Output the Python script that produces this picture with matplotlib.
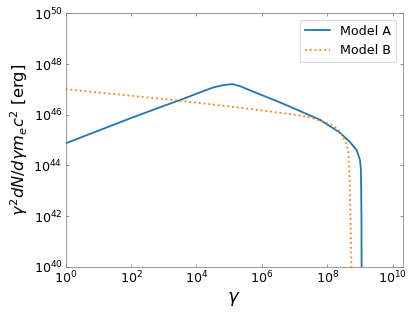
import numpy as np
import matplotlib
matplotlib.use("Agg")
import matplotlib.pyplot as plt

# values (log10 of gamma and of gamma^2 dN/dgamma m_e c^2)
log_gamma_a = [0.0, 1.0, 2.0, 3.0, 3.5, 4.0, 4.52, 4.82, 5.1, 5.33, 5.74,
               6.55, 6.86, 7.16, 7.78, 8.39, 8.69, 8.90, 9.0, 9.03, 9.045, 9.05]
log_energy_a = [44.87, 45.37, 45.87, 46.35, 46.58, 46.83, 47.08, 47.17, 47.21,
                47.13, 46.91, 46.49, 46.32, 46.15, 45.80, 45.29, 44.93, 44.6,
                44.21, 43.8, 42.0, 39.5]

log_gamma_b = [0.0, 1.0, 2.0, 3.0, 3.5, 4.0, 5.0, 6.0, 6.86, 7.47, 7.78,
               8.18, 8.39, 8.54, 8.64, 8.68, 8.71, 8.745]
log_energy_b = [47.01, 46.88, 46.75, 46.62, 46.55, 46.48, 46.33, 46.17, 46.03,
                45.90, 45.76, 45.59, 45.33, 45.0, 44.6, 43.5, 42.0, 39.5]

labels = ["Model A", "Model B"]

gamma_a = 10.0 ** np.array(log_gamma_a)
energy_a = 10.0 ** np.array(log_energy_a)
gamma_b = 10.0 ** np.array(log_gamma_b)
energy_b = 10.0 ** np.array(log_energy_b)

fig, ax = plt.subplots(figsize=(415 / 65, 4.8), dpi=65)
fig.subplots_adjust(left=0.158, right=0.970, bottom=0.145, top=0.957)

ax.plot(gamma_a, energy_a, color="#1f77b4", lw=2, label=labels[0])
ax.plot(gamma_b, energy_b, color="#ff7f0e", lw=2, ls=":", label=labels[1])

ax.set_xscale("log")
ax.set_yscale("log")
ax.set_xlim(1, 2e10)
ax.set_ylim(1e40, 1e50)
ax.set_xticks([10.0 ** k for k in range(0, 11, 2)])
ax.set_yticks([10.0 ** k for k in range(40, 51, 2)])
ax.minorticks_off()

for sp in ax.spines.values():
    sp.set_color("0.45")
ax.tick_params(which="both", direction="in", top=True, right=True,
               length=3.5, color="0.45", labelsize=14)

ax.set_xlabel(r"$\gamma$", fontsize=20)
ax.set_ylabel(r"$\gamma^2 dN/d\gamma m_e c^2$ [erg]", fontsize=18)
ax.legend(loc="upper right", fontsize=14)

fig.savefig("out.png", dpi=65)
